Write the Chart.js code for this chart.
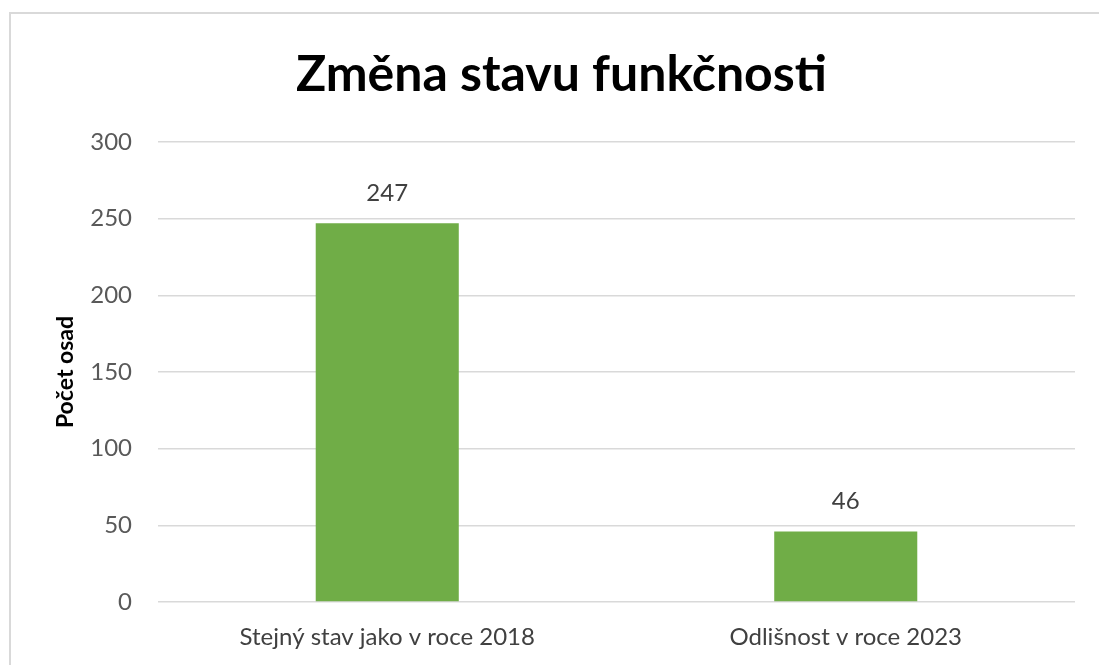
<!DOCTYPE html>
<html>
<head>
<meta charset="utf-8">
<script src="https://cdn.jsdelivr.net/npm/chart.js@4"></script>
<style>
  html, body { margin: 0; padding: 0; background: #fff; overflow: hidden; }
  #wrap { position: relative; width: 1099px; height: 665px; }
  #frame { position: absolute; left: 9px; top: 12px; width: 1200px; height: 800px;
           border: 2px solid #d9d9d9; box-sizing: border-box; }
  canvas { position: absolute; left: 0; top: 0; }
</style>
</head>
<body>
<div id="wrap">
  <div id="frame"></div>
  <canvas id="chart" width="1099" height="665"></canvas>
</div>
<script>
const categories = ['Stejný stav jako v roce 2018', 'Odlišnost v roce 2023'];
const values = [247, 46];
const yTicks = [0, 50, 100, 150, 200, 250, 300];

const FONT = 'Lato, "Open Sans", sans-serif';

// draws the value above each bar
const valueLabels = {
    id: 'valueLabels',
    afterDatasetsDraw(chart) {
        const ctx = chart.ctx;
        const meta = chart.getDatasetMeta(0);
        ctx.save();
        ctx.font = '24px ' + FONT;
        ctx.fillStyle = '#404040';
        ctx.textAlign = 'center';
        ctx.textBaseline = 'middle';
        meta.data.forEach((bar, i) => {
            ctx.fillText(values[i], bar.x, bar.y - 30);
        });
        ctx.restore();
    }
};

new Chart(document.getElementById('chart'), {
    type: 'bar',
    data: {
        labels: categories,
        datasets: [{
            data: values,
            backgroundColor: '#70ad47',
            barPercentage: 0.312,
            categoryPercentage: 1
        }]
    },
    options: {
        responsive: false,
        animation: false,
        layout: { padding: { left: 48, right: 24, top: 0, bottom: 0 } },
        plugins: {
            legend: { display: false },
            tooltip: { enabled: false },
            title: {
                display: true,
                text: 'Změna stavu funkčnosti',
                color: '#000',
                font: { family: FONT, size: 50, weight: 'bold' },
                padding: { top: 45, bottom: 37 }
            }
        },
        scales: {
            x: {
                afterFit(scale) { scale.height = 63; },
                grid: { display: false },
                border: { display: false },
                ticks: {
                    color: '#404040',
                    font: { family: FONT, size: 24 },
                    padding: 13
                }
            },
            y: {
                min: 0,
                max: 300,
                afterFit(scale) { scale.width = 110; },
                afterBuildTicks(scale) {
                    scale.ticks = yTicks.map(v => ({ value: v }));
                },
                grid: { color: '#d9d9d9', lineWidth: 1.5, drawTicks: false },
                border: { display: false },
                ticks: {
                    color: '#595959',
                    font: { family: FONT, size: 24 },
                    padding: 26
                },
                title: {
                    display: true,
                    text: 'Počet osad',
                    color: '#000',
                    font: { family: FONT, size: 23, weight: 'bold' }
                }
            }
        }
    },
    plugins: [valueLabels]
});
</script>
</body>
</html>
